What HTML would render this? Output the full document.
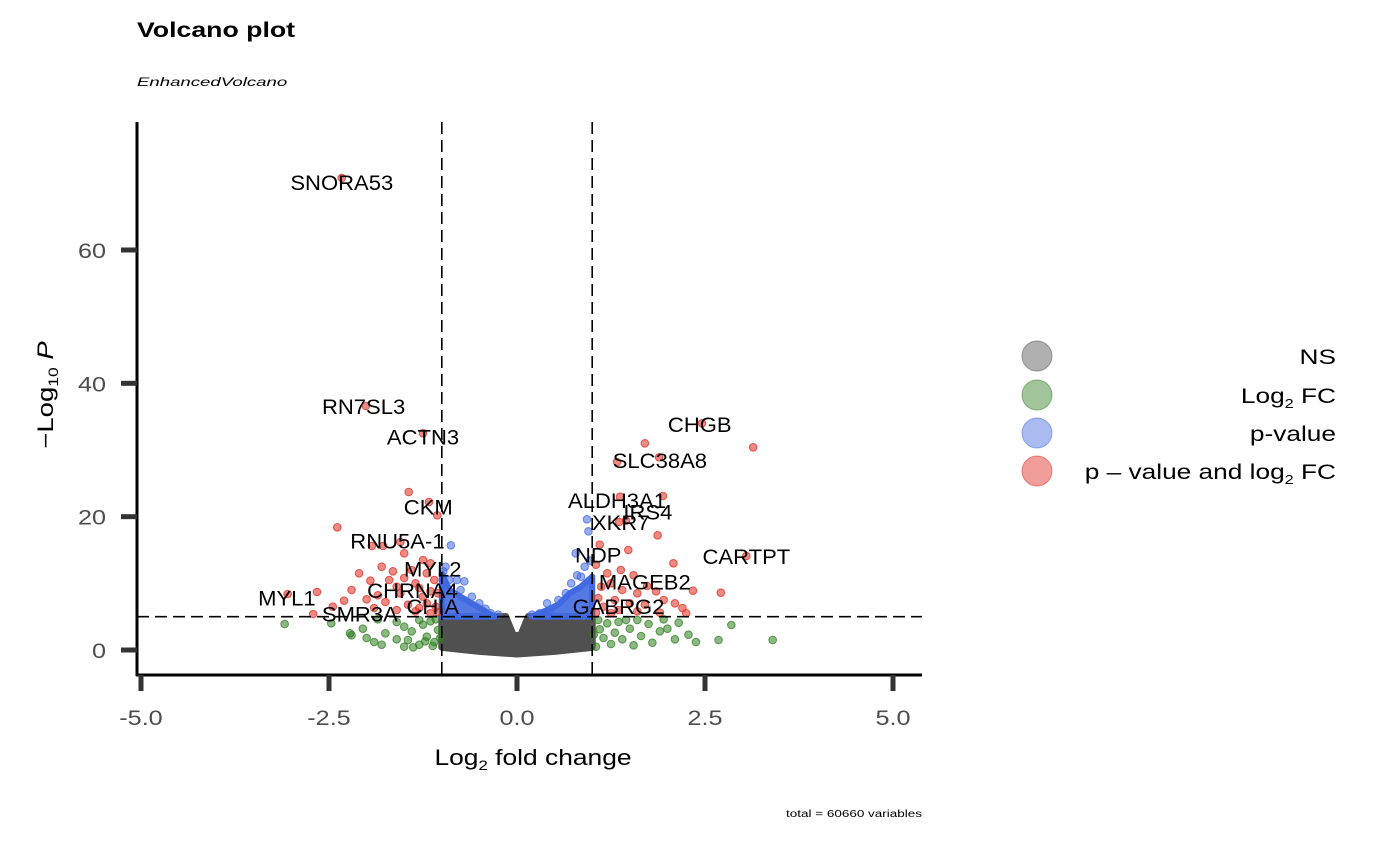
<!DOCTYPE html>
<html><head><meta charset="utf-8"><style>
body{margin:0;background:#fff;font-family:"Liberation Sans",Arial,sans-serif}
svg{display:block}
</style></head><body>
<svg width="1378" height="862" viewBox="0 0 1378 862">
<g id="plot"></g>
</svg>
<script>
const xTicks=[-5,-2.5,0,2.5,5];
const xTickLabels=["-5.0","-2.5","0.0","2.5","5.0"];
const yTicks=[0,20,40,60];
const yTickLabels=["0","20","40","60"];
const fcCut=[-1,1];
const pCut=5;
const redPts=[[-2.33,70.8],[-2.01,36.6],[-1.25,32.5],[-1.44,23.7],[-1.17,22.2],[-1.06,20.2],[-2.39,18.4],[-1.93,15.6],[-1.78,15.6],[-1.55,16.2],[-1.5,14.5],[-1.25,13.5],[-1.15,13],[-1.8,12.5],[-1.65,11.8],[-1.4,12],[-1.2,11.5],[-2.1,11.5],[-1.95,10.4],[-1.7,10.5],[-1.5,10.8],[-1.35,10],[-1.1,10.5],[-1.6,9.5],[-1.3,9.3],[-1.15,8.8],[-2.2,9],[-1.85,8.2],[-1.55,8.5],[-1.25,8],[-1.05,8.5],[-3.05,8.4],[-2.66,8.7],[-2.3,7.4],[-2.0,7.6],[-1.75,7.2],[-1.45,6.8],[-1.2,7],[-1.08,6.5],[-2.71,5.4],[-2.45,6.5],[-1.9,6.3],[-1.6,6],[-1.35,5.8],[-1.15,5.5],[-1.05,5.7],[-1.3,6.3],
[2.46,34],[1.70,31],[3.14,30.4],[1.89,28.9],[1.33,28.2],[1.94,23.1],[1.37,23],[1.45,19.4],[1.36,19.2],[1.87,17.2],[1.48,15],[3.05,14.1],[1.1,15.8],[2.08,13],[1.73,9.6],[2.71,8.6],[2.34,8.9],[1.38,12],[1.2,11.5],[1.55,11.2],[1.05,12.8],[1.25,10],[1.12,9.5],[1.4,9],[1.6,8.5],[1.85,8.8],[1.95,7.5],[2.1,7],[1.3,7.5],[1.08,7.8],[1.5,7],[1.7,6.8],[2.2,6.3],[1.15,6.5],[1.35,6],[1.05,5.6],[1.25,5.5],[1.6,5.8],[1.9,5.6],[2.25,5.5]];
const greenPts=[[-3.09,3.9],[-2.47,4],[-2.2,2.2],[-2.22,2.5],[-2.0,1.8],[-1.9,1.2],[-1.8,0.8],[-1.75,2.5],[-1.6,1.6],[-1.5,3.5],[-1.45,1.5],[-1.4,2.8],[-1.3,0.8],[-1.25,3.8],[-1.2,2],[-1.15,4.3],[-1.1,1.2],[-1.05,3],[-1.3,4.5],[-1.6,4.2],[-1.85,4.6],[-2.05,3.2],[-1.38,0.4],[-1.12,0.6],[-1.02,1.8],[-1.08,4.6],[-1.22,1.3],[-1.5,0.5],
[3.40,1.5],[2.85,3.75],[2.68,1.5],[2.38,1.2],[2.28,2.3],[2.1,1.6],[2.0,3.2],[1.9,2.8],[1.8,1.1],[1.75,3.9],[1.65,2.1],[1.55,0.7],[1.5,3.2],[1.45,4.5],[1.4,1.6],[1.3,2.6],[1.25,0.9],[1.2,4],[1.15,1.8],[1.1,3.1],[1.05,0.5],[1.02,2.3],[1.35,4.2],[1.6,4.5],[2.15,4.1],[1.95,4.6],[1.08,4.5]];
const bluePts=[[-0.88,15.7],[0.93,19.6],[0.78,14.5],[0.95,17.8],[-0.95,12.5],[-0.9,10.5],[-0.8,10.5],[-0.7,10.3],[-0.75,9],[-0.6,8],[-0.5,7],[-0.42,6.2],[-0.35,5.5],[0.3,5.5],[0.4,7],[0.45,6],[0.55,7.5],[0.65,8.5],[0.72,10],[0.8,11.2],[0.85,11],[0.9,12.5],[0.97,13.4],[-0.98,11.8],[0.2,5.3],[-0.25,5.3]];
const blueLeftEnv=[[-1,11.5],[-0.9,9],[-0.75,8],[-0.6,7],[-0.45,6],[-0.3,5],[-1,5]];
const blueRightEnv=[[0.2,5],[0.4,6],[0.55,6.8],[0.7,8.5],[0.85,9.5],[1,11],[1,5]];
const greyEnv=[[-1,5],[-0.15,5],[-0.05,2.2],[0.05,2.2],[0.15,5],[1,5],[1,0.4],[0.5,-0.2],[0,-0.6],[-0.5,-0.2],[-1,0.4]];
const geneLabels=["SNORA53","RN7SL3","ACTN3","CKM","RNU5A-1","MYL2","CHRNA4","CHIA","SMR3A","MYL1","CHGB","SLC38A8","ALDH3A1","XKR7","IRS4","NDP","CARTPT","MAGEB2","GABRG2"];
const labelX=[-2.33,-2.04,-1.25,-1.18,-1.59,-1.12,-1.39,-1.12,-2.09,-3.06,2.43,1.90,1.33,1.38,1.74,1.08,3.05,1.70,1.35];
const labelY=[70.2,36.6,32,21.5,16.4,12.2,9.0,6.6,5.5,7.9,33.9,28.5,22.5,19.2,20.8,14.3,14.1,10.3,6.6];

const X0=517,XS=75.2,Y0=650,YS=6.667;
const sx=v=>X0+v*XS, sy=v=>Y0-v*YS;
const NS="http://www.w3.org/2000/svg";
const g=document.getElementById('plot');
function el(t,a,txt){const e=document.createElementNS(NS,t);for(const k in a)e.setAttribute(k,a[k]);if(txt!=null)e.textContent=txt;g.appendChild(e);return e;}
function txt(x,y,size,anchor,k,extra,rot){
 const a={x:0,y:0,'font-size':size,'text-anchor':anchor,fill:'#000',transform:'translate('+x+','+y+')'+(rot?' rotate('+rot+')':'')+' scale('+k+',1)'};
 for(const q in extra)a[q]=extra[q];
 return el('text',a);
}

let t=txt(137,37,21,'start',1.27,{'font-weight':'bold'});t.textContent='Volcano plot';


t=txt(137,86,12,'start',1.55,{'font-style':'italic'});t.textContent='EnhancedVolcano';


t=txt(922,817,10,'end',1.35,{});t.textContent='total = 60660 variables';



function envPath(env){return env.map((p,i)=>(i?'L':'M')+sx(p[0])+','+sy(p[1])).join('')+'Z';}
let p=el('path',{d:envPath(greyEnv),fill:'#505050',stroke:'#505050','stroke-width':7,'stroke-linejoin':'round'});


[blueLeftEnv,blueRightEnv].forEach(env=>{
 const q=el('path',{d:envPath(env),fill:'#4169e1',stroke:'#4169e1','stroke-width':6,'stroke-linejoin':'round','fill-opacity':0.9});
 
 
});
function pts(arr,col,name){arr.forEach(d=>{const c=el('circle',{cx:sx(d[0]),cy:sy(d[1]),r:3.8,fill:col,'fill-opacity':0.55,stroke:col,'stroke-opacity':0.75,'stroke-width':1});
 
 });}
pts(greenPts,'#2e7d1e','log2fc-point');
pts(bluePts,'#4169e1','pvalue-point');
pts(redPts,'#e0291f','significant-point');

fcCut.forEach(v=>{const l=el('line',{x1:sx(v),x2:sx(v),y1:122,y2:675,stroke:'#000','stroke-width':1.6,'stroke-dasharray':'12,6'});
 
 });
let hl=el('line',{x1:137,x2:922,y1:sy(pCut),y2:sy(pCut),stroke:'#000','stroke-width':1.6,'stroke-dasharray':'12,6'});



geneLabels.forEach((s,i)=>{const tx=txt(sx(labelX[i]),sy(labelY[i])+8,21,'middle',1.05,{});tx.textContent=s;
 
 });

let ax=el('line',{x1:137,x2:137,y1:122,y2:676,stroke:'#000','stroke-width':3});


ax=el('line',{x1:136,x2:922,y1:675,y2:675,stroke:'#000','stroke-width':3});


yTicks.forEach((v,i)=>{const l=el('line',{x1:121,x2:137,y1:sy(v),y2:sy(v),stroke:'#333','stroke-width':5});
 
 
 const tt=txt(106,sy(v)+8,21,'end',1.2,{fill:'#4d4d4d'});tt.textContent=yTickLabels[i];
 
 });
xTicks.forEach((v,i)=>{const l=el('line',{x1:sx(v),x2:sx(v),y1:675,y2:691,stroke:'#333','stroke-width':5});
 
 
 const tt=txt(sx(v),725,21,'middle',1.2,{fill:'#4d4d4d'});tt.textContent=xTickLabels[i];
 
 });

t=txt(533,765,22,'middle',1.2,{});
t.innerHTML='Log<tspan font-size="14" dy="5">2</tspan><tspan dy="-5"> fold change</tspan>';


t=txt(53,395,22,'middle',1.25,{},-90);
t.innerHTML='−Log<tspan font-size="14" dy="5">10</tspan><tspan dy="-5" font-style="italic"> P</tspan>';



const legNames=['NS','Log2 FC','p-value','p – value and log2 FC'];
const legCols=['#505050','#2e7d1e','#4169e1','#e0291f'];
const legY=[356,395,433,471];
legNames.forEach((n,i)=>{
 const c=el('circle',{cx:1037,cy:legY[i],r:15,fill:legCols[i],'fill-opacity':0.45,stroke:legCols[i],'stroke-opacity':0.5});
 
 
 const tx=txt(1336,legY[i]+8,21,'end',1.25,{});
 if(i===1) tx.innerHTML='Log<tspan font-size="13" dy="5">2</tspan><tspan dy="-5"> FC</tspan>';
 else if(i===3) tx.innerHTML='p – value and log<tspan font-size="13" dy="5">2</tspan><tspan dy="-5"> FC</tspan>';
 else tx.textContent=n;
 
 
});
</script>
</body></html>
